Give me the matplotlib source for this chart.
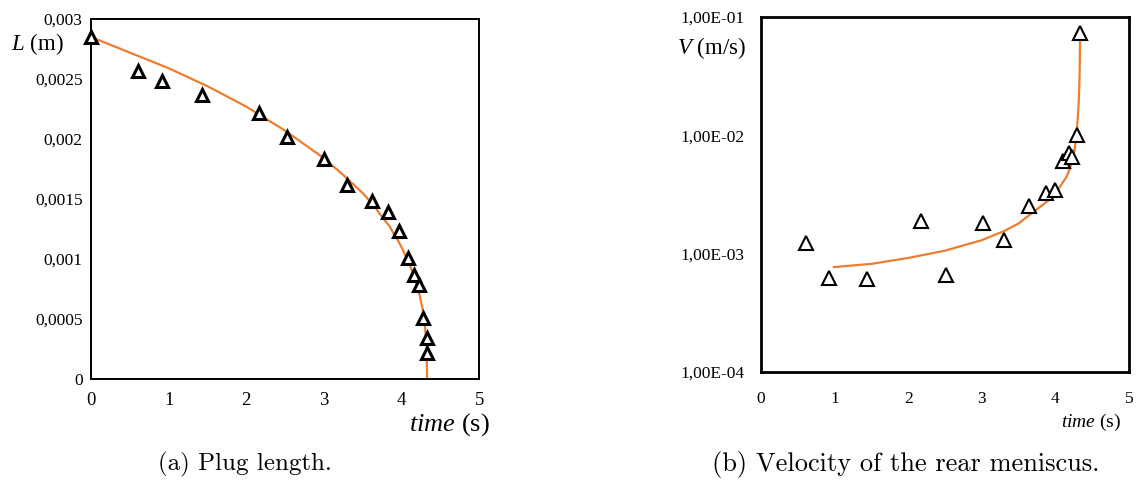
#!/usr/bin/env python3
"""
Plug length and rear meniscus velocity versus time (two panels).
"""

import matplotlib
matplotlib.use("Agg")
import matplotlib.pyplot as plt

# (a) plug length: measured points
length_t = [0.0, 0.61, 0.92, 1.43, 2.17, 2.53, 3.0, 3.30, 3.62, 3.83,
            3.97, 4.08, 4.16, 4.22, 4.28, 4.33, 4.33]
length_m = [0.00285, 0.00257, 0.00248, 0.00237, 0.00222, 0.00202, 0.00183,
            0.00162, 0.00148, 0.00139, 0.00123, 0.00101, 0.00087, 0.00078,
            0.00051, 0.00034, 0.00022]

# (a) plug length: model curve
length_fit_t = [0.0, 0.5, 1.0, 1.5, 2.0, 2.5, 3.0, 3.25, 3.5, 3.65, 3.75,
                3.85, 3.9, 3.95, 4.0, 4.05, 4.1, 4.15, 4.2, 4.23, 4.25,
                4.27, 4.28, 4.29, 4.3, 4.31, 4.32, 4.325, 4.33]
length_fit_m = [0.00285, 0.00272, 0.00259, 0.00244, 0.00227, 0.00207,
                0.00184, 0.00170, 0.00155, 0.00144, 0.00135, 0.00127,
                0.00121, 0.00116, 0.00110, 0.00103, 0.00096, 0.00088,
                0.00078, 0.00071, 0.00065, 0.00059, 0.00055, 0.00050,
                0.00045, 0.00039, 0.00030, 0.00024, 0.0]

# (b) rear meniscus velocity: measured points
vel_t = [0.61, 0.92, 1.44, 2.17, 2.52, 3.01, 3.30, 3.64, 3.87, 4.0, 4.10,
         4.19, 4.23, 4.30, 4.34]
vel_ms = [1.23e-3, 6.2e-4, 6.1e-4, 1.89e-3, 6.6e-4, 1.82e-3, 1.30e-3,
          2.52e-3, 3.26e-3, 3.47e-3, 6.07e-3, 7.1e-3, 6.6e-3, 1.0e-2, 7.3e-2]

# (b) rear meniscus velocity: model curve
vel_fit_t = [0.99, 1.5, 2.0, 2.5, 3.0, 3.3, 3.5, 3.7, 3.85, 3.96, 4.05,
             4.1, 4.15, 4.19, 4.22, 4.24, 4.26, 4.28, 4.29, 4.30, 4.31,
             4.32, 4.325, 4.33, 4.335]
vel_fit_ms = [7.7e-4, 8.2e-4, 9.2e-4, 1.06e-3, 1.30e-3, 1.55e-3, 1.80e-3,
              2.25e-3, 2.65e-3, 3.0e-3, 3.6e-3, 4.0e-3, 4.45e-3, 5.1e-3,
              5.8e-3, 6.5e-3, 7.5e-3, 9.3e-3, 1.1e-2, 1.3e-2, 1.6e-2,
              2.1e-2, 2.6e-2, 3.6e-2, 6.8e-2]

length_ticks = [0, 0.0005, 0.001, 0.0015, 0.002, 0.0025, 0.003]
length_ticklabels = ["0", "0,0005", "0,001", "0,0015", "0,002", "0,0025", "0,003"]
vel_ticks = [1e-4, 1e-3, 1e-2, 1e-1]
vel_ticklabels = ["1,00E-04", "1,00E-03", "1,00E-02", "1,00E-01"]
time_ticks = [0, 1, 2, 3, 4, 5]

ORANGE = "#ED7D31"
SERIF = "Liberation Serif"


def style_axes(ax, spine_width):
    for sp in ax.spines.values():
        sp.set_linewidth(spine_width)
        sp.set_color("black")
    ax.tick_params(length=0, labelsize=12.5, pad=6)
    for lbl in ax.get_xticklabels() + ax.get_yticklabels():
        lbl.set_fontfamily(SERIF)


def main():
    plt.rcParams["mathtext.fontset"] = "custom"
    plt.rcParams["mathtext.rm"] = SERIF
    plt.rcParams["mathtext.it"] = SERIF + ":italic"

    fig = plt.figure(figsize=(11.38, 4.84), dpi=100)

    # Panel (a): plug length
    ax1 = fig.add_axes([0.080, 0.2169, 0.341, 0.7438])
    ax1.plot(length_fit_t, length_fit_m, color=ORANGE, linewidth=1.6, zorder=2)
    ax1.plot(length_t, length_m, linestyle="none", marker="^", markersize=9,
             markerfacecolor="white", markeredgecolor="black",
             markeredgewidth=2.2, clip_on=False, zorder=3)
    ax1.set_xlim(0, 5)
    ax1.set_ylim(0, 0.003)
    ax1.set_xticks(time_ticks)
    ax1.set_yticks(length_ticks)
    ax1.set_yticklabels(length_ticklabels)
    style_axes(ax1, 1.4)
    ax1.tick_params(axis="x", labelsize=13.5, pad=9)
    fig.text(0.010, 0.909, r"$L$ (m)", fontsize=16.5, family=SERIF,
             ha="left", va="center")
    fig.text(0.430, 0.122, r"$time$ (s)", fontsize=19, family=SERIF,
             ha="right", va="center")
    fig.text(0.2153, 0.041, "(a) Plug length.", fontsize=18,
             family="cmr10", ha="center", va="center")

    # Panel (b): rear meniscus velocity
    ax2 = fig.add_axes([0.6687, 0.2314, 0.3234, 0.7335])
    ax2.set_yscale("log")
    ax2.plot(vel_fit_t, vel_fit_ms, color=ORANGE, linewidth=1.6, zorder=2)
    ax2.plot(vel_t, vel_ms, linestyle="none", marker="^", markersize=10,
             markerfacecolor="white", markeredgecolor="black",
             markeredgewidth=1.5, clip_on=False, zorder=3)
    ax2.set_xlim(0, 5)
    ax2.set_ylim(1e-4, 1e-1)
    ax2.set_xticks(time_ticks)
    ax2.set_yticks(vel_ticks)
    ax2.set_yticklabels(vel_ticklabels)
    ax2.minorticks_off()
    style_axes(ax2, 2.0)
    ax2.tick_params(axis="y", labelsize=12.5, pad=12)
    ax2.tick_params(axis="x", labelsize=12.5, pad=14)
    fig.text(0.595, 0.901, r"$V$ (m/s)", fontsize=16.5, family=SERIF,
             ha="left", va="center")
    fig.text(0.985, 0.128, r"$time$ (s)", fontsize=14, family=SERIF,
             ha="right", va="center")
    fig.text(0.796, 0.041, "(b) Velocity of the rear meniscus.", fontsize=19,
             family="cmr10", ha="center", va="center")

    fig.savefig("out.png", dpi=100)


if __name__ == "__main__":
    main()
